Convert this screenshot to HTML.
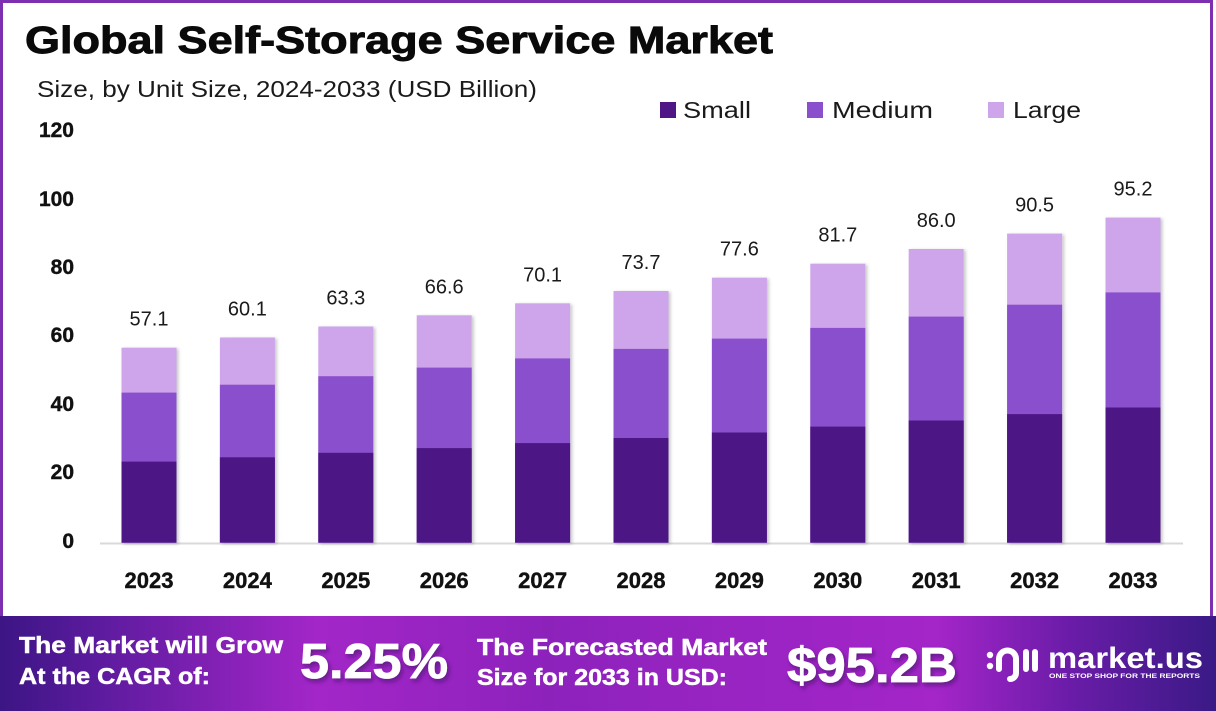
<!DOCTYPE html>
<html>
<head>
<meta charset="utf-8">
<style>
  html,body{margin:0;padding:0;background:#fff;}
  body{width:1216px;height:711px;overflow:hidden;}
  svg{display:block;}
  text{font-family:"Liberation Sans", Arial, sans-serif;}
</style>
</head>
<body>
<svg width="1216" height="711" viewBox="0 0 1216 711" xmlns="http://www.w3.org/2000/svg">
  <defs>
    <linearGradient id="foot" x1="0" y1="0" x2="1" y2="0">
      <stop offset="0" stop-color="#3c1584"/>
      <stop offset="0.08" stop-color="#5c1b9e"/>
      <stop offset="0.26" stop-color="#a326c8"/>
      <stop offset="0.45" stop-color="#8d22bb"/>
      <stop offset="0.62" stop-color="#9a24c3"/>
      <stop offset="0.77" stop-color="#a425c8"/>
      <stop offset="0.88" stop-color="#6a1ca8"/>
      <stop offset="1" stop-color="#3a1a86"/>
    </linearGradient>
    <filter id="bsh" x="-10%" y="-5%" width="130%" height="115%">
      <feDropShadow dx="2" dy="1" stdDeviation="1.5" flood-color="#000" flood-opacity="0.22"/>
    </filter>
    <filter id="tsh" x="-10%" y="-20%" width="130%" height="150%">
      <feDropShadow dx="2" dy="3" stdDeviation="2" flood-color="#3a0a60" flood-opacity="0.6"/>
    </filter>
  </defs>

  <!-- frame -->
  <rect x="0" y="0" width="1216" height="711" fill="#fff"/>
  <rect x="1.5" y="1.5" width="1210" height="630" fill="#fff" stroke="#7e2fb0" stroke-width="3"/>

  <!-- title -->
  <text x="25" y="53" font-size="38" font-weight="bold" fill="#0a0a0a" stroke="#0a0a0a" stroke-width="0.9" textLength="748" lengthAdjust="spacingAndGlyphs">Global Self-Storage Service Market</text>
  <text x="37" y="97" font-size="23" fill="#1a1a1a" textLength="500" lengthAdjust="spacingAndGlyphs">Size, by Unit Size, 2024-2033 (USD Billion)</text>

  <!-- legend -->
  <rect x="660" y="102" width="16" height="16" fill="#4e1785"/>
  <text x="683" y="118" font-size="23" fill="#1a1a1a" textLength="68" lengthAdjust="spacingAndGlyphs">Small</text>
  <rect x="807" y="102" width="16" height="16" fill="#8a4fcc"/>
  <text x="832" y="118" font-size="23" fill="#1a1a1a" textLength="101" lengthAdjust="spacingAndGlyphs">Medium</text>
  <rect x="988" y="102" width="16" height="16" fill="#cea5ea"/>
  <text x="1013" y="118" font-size="23" fill="#1a1a1a" textLength="68" lengthAdjust="spacingAndGlyphs">Large</text>

  <!-- y axis labels -->
  <g font-size="21" font-weight="bold" fill="#111" stroke="#111" stroke-width="0.4" text-anchor="end">
    <text x="74" y="137">120</text>
    <text x="74" y="206">100</text>
    <text x="74" y="274">80</text>
    <text x="74" y="342">60</text>
    <text x="74" y="411">40</text>
    <text x="74" y="479">20</text>
    <text x="74" y="548">0</text>
  </g>

  <!-- baseline -->
  <line x1="100" y1="543.5" x2="1183" y2="543.5" stroke="#d9d9d9" stroke-width="2"/>

  <!-- bars -->
  <g filter="url(#bsh)">
    <rect x="121.5" y="347.7" width="55" height="195" fill="#cea5ea"/>
    <rect x="121.5" y="392.6" width="55" height="150.1" fill="#8a4fcc"/>
    <rect x="121.5" y="461.6" width="55" height="81.1" fill="#4e1785"/>

    <rect x="219.9" y="337.5" width="55" height="205.2" fill="#cea5ea"/>
    <rect x="219.9" y="384.7" width="55" height="158" fill="#8a4fcc"/>
    <rect x="219.9" y="457.3" width="55" height="85.4" fill="#4e1785"/>

    <rect x="318.3" y="326.5" width="55" height="216.2" fill="#cea5ea"/>
    <rect x="318.3" y="376.2" width="55" height="166.5" fill="#8a4fcc"/>
    <rect x="318.3" y="452.8" width="55" height="89.9" fill="#4e1785"/>

    <rect x="416.7" y="315.3" width="55" height="227.4" fill="#cea5ea"/>
    <rect x="416.7" y="367.6" width="55" height="175.1" fill="#8a4fcc"/>
    <rect x="416.7" y="448.1" width="55" height="94.6" fill="#4e1785"/>

    <rect x="515.1" y="303.3" width="55" height="239.4" fill="#cea5ea"/>
    <rect x="515.1" y="358.4" width="55" height="184.3" fill="#8a4fcc"/>
    <rect x="515.1" y="443.1" width="55" height="99.6" fill="#4e1785"/>

    <rect x="613.5" y="291.0" width="55" height="251.7" fill="#cea5ea"/>
    <rect x="613.5" y="348.9" width="55" height="193.8" fill="#8a4fcc"/>
    <rect x="613.5" y="438.0" width="55" height="104.7" fill="#4e1785"/>

    <rect x="711.9" y="277.7" width="55" height="265" fill="#cea5ea"/>
    <rect x="711.9" y="338.6" width="55" height="204.1" fill="#8a4fcc"/>
    <rect x="711.9" y="432.5" width="55" height="110.2" fill="#4e1785"/>

    <rect x="810.3" y="263.7" width="55" height="279" fill="#cea5ea"/>
    <rect x="810.3" y="327.9" width="55" height="214.8" fill="#8a4fcc"/>
    <rect x="810.3" y="426.6" width="55" height="116.1" fill="#4e1785"/>

    <rect x="908.7" y="249.0" width="55" height="293.7" fill="#cea5ea"/>
    <rect x="908.7" y="316.6" width="55" height="226.1" fill="#8a4fcc"/>
    <rect x="908.7" y="420.5" width="55" height="122.2" fill="#4e1785"/>

    <rect x="1007.1" y="233.6" width="55" height="309.1" fill="#cea5ea"/>
    <rect x="1007.1" y="304.7" width="55" height="238" fill="#8a4fcc"/>
    <rect x="1007.1" y="414.1" width="55" height="128.6" fill="#4e1785"/>

    <rect x="1105.5" y="217.6" width="55" height="325.1" fill="#cea5ea"/>
    <rect x="1105.5" y="292.4" width="55" height="250.3" fill="#8a4fcc"/>
    <rect x="1105.5" y="407.5" width="55" height="135.2" fill="#4e1785"/>
  </g>

  <!-- value labels -->
  <g font-size="20" fill="#1a1a1a" text-anchor="middle">
    <text x="149" y="325.7">57.1</text>
    <text x="247.4" y="315.5">60.1</text>
    <text x="345.8" y="304.5">63.3</text>
    <text x="444.2" y="293.3">66.6</text>
    <text x="542.6" y="281.3">70.1</text>
    <text x="641" y="269">73.7</text>
    <text x="739.4" y="255.7">77.6</text>
    <text x="837.8" y="241.7">81.7</text>
    <text x="936.2" y="227">86.0</text>
    <text x="1034.6" y="211.6">90.5</text>
    <text x="1133" y="195.6">95.2</text>
  </g>

  <!-- year labels -->
  <g font-size="22" font-weight="bold" fill="#111" stroke="#111" stroke-width="0.4" text-anchor="middle">
    <text x="149" y="588">2023</text>
    <text x="247.4" y="588">2024</text>
    <text x="345.8" y="588">2025</text>
    <text x="444.2" y="588">2026</text>
    <text x="542.6" y="588">2027</text>
    <text x="641" y="588">2028</text>
    <text x="739.4" y="588">2029</text>
    <text x="837.8" y="588">2030</text>
    <text x="936.2" y="588">2031</text>
    <text x="1034.6" y="588">2032</text>
    <text x="1133" y="588">2033</text>
  </g>

  <!-- footer -->
  <rect x="0" y="616" width="1216" height="95" fill="url(#foot)"/>
  <g fill="#fff" font-weight="bold">
    <text x="19" y="653" font-size="23" stroke="#fff" stroke-width="0.5" textLength="264" lengthAdjust="spacingAndGlyphs">The Market will Grow</text>
    <text x="19" y="684" font-size="23" stroke="#fff" stroke-width="0.5" textLength="191" lengthAdjust="spacingAndGlyphs">At the CAGR of:</text>
    <text x="300" y="678" font-size="49" stroke="#fff" stroke-width="0.8" textLength="148" lengthAdjust="spacingAndGlyphs" filter="url(#tsh)">5.25%</text>
    <text x="477" y="655" font-size="23" stroke="#fff" stroke-width="0.5" textLength="290" lengthAdjust="spacingAndGlyphs">The Forecasted Market</text>
    <text x="477" y="685" font-size="23" stroke="#fff" stroke-width="0.5" textLength="250" lengthAdjust="spacingAndGlyphs">Size for 2033 in USD:</text>
    <text x="787" y="682" font-size="49" stroke="#fff" stroke-width="0.8" textLength="170" lengthAdjust="spacingAndGlyphs" filter="url(#tsh)">$95.2B</text>
  </g>

  <!-- logo -->
  <g fill="#fff">
    <circle cx="990" cy="655" r="3.2"/>
    <circle cx="990" cy="666" r="3.2"/>
  </g>
  <g stroke="#fff" stroke-width="6" fill="none" stroke-linecap="round">
    <path d="M999 669 V659 a8.5 8.5 0 0 1 17 0 V673 a6 6 0 0 1 -6 6"/>
    <line x1="1026" y1="652" x2="1026" y2="669"/>
    <line x1="1035" y1="652" x2="1035" y2="669"/>
  </g>
  <text x="1048" y="668" font-size="30" font-weight="bold" fill="#fff" textLength="155" lengthAdjust="spacingAndGlyphs">market.us</text>
  <text x="1049" y="678" font-size="6" font-weight="bold" fill="#fff" textLength="151" lengthAdjust="spacingAndGlyphs">ONE STOP SHOP FOR THE REPORTS</text>
</svg>
</body>
</html>
